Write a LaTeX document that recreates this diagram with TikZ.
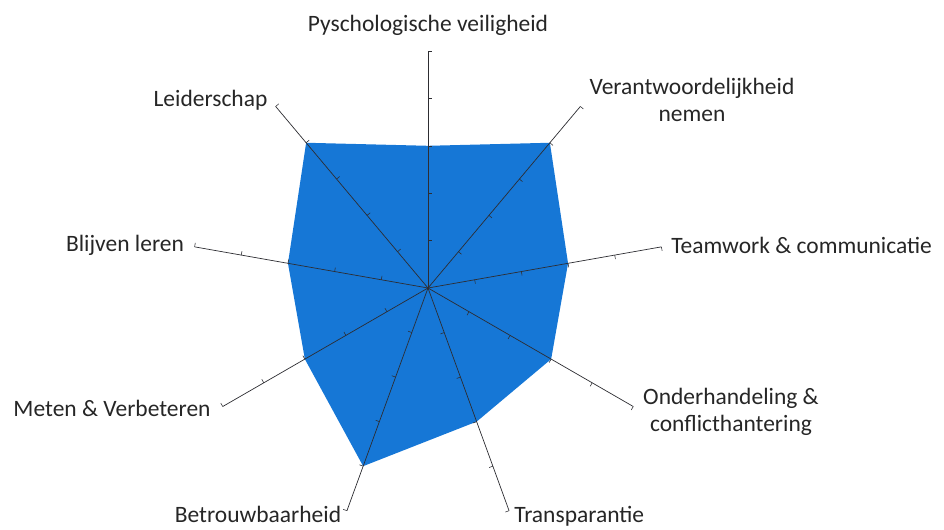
\documentclass[tikz,border=0pt]{standalone}
\usepackage{fontspec}
\setmainfont{Carlito}
\definecolor{radarblue}{RGB}{22,119,214}
\definecolor{spoke}{RGB}{45,45,50}

\begin{document}
\begin{tikzpicture}[x=0.025cm,y=0.025cm,
  label text/.style={text=black!85,font=\fontsize{16.7}{19.2}\selectfont,inner sep=0pt,align=center}]
\def\unitlen{47.4}
\useasboundingbox (0,0) rectangle (944,529);
\coordinate (c) at (428,241);
\foreach \ang/\val [count=\i] in {90/3,50/4,10/3,-30/3,-70/3,-110/4,-150/3,170/3,130/4}
  {\coordinate (v\i) at ([shift={(\ang:\val*\unitlen)}]c);
   \coordinate (e\i) at ([shift={(\ang:5*\unitlen)}]c);}
\fill[radarblue] (v1) -- (v2) -- (v3) -- (v4) -- (v5) -- (v6) -- (v7) -- (v8) -- (v9) -- cycle;
\foreach \ang [count=\i] in {90,50,10,-30,-70,-110,-150,170,130}
  {\draw[spoke,line width=0.5pt] (c) -- (e\i);
   \foreach \k in {1,...,5}
     \draw[spoke,line width=0.4pt] ([shift={(\ang:\k*\unitlen)}]c) -- ++(\ang-90:4);}
\node[label text] (l1) at (428,504) {Pyschologische veiligheid};
\node[label text] (l2) at (692,429) {Verantwoordelijkheid\\nemen};
\node[label text,anchor=west] (l3) at (671,284) {Teamwork \& communicatie};
\node[label text] (l4) at (731,117.5) {Onderhandeling \&\\conflicthantering};
\node[label text,anchor=west] (l5) at (514,13) {Transparantie};
\node[label text] (l6) at (258,15) {Betrouwbaarheid};
\node[label text] (l7) at (112,121) {Meten \& Verbeteren};
\node[label text] (l8) at (125,284) {Blijven leren};
\node[label text] (l9) at (210.5,429) {Leiderschap};
\end{tikzpicture}
\end{document}
